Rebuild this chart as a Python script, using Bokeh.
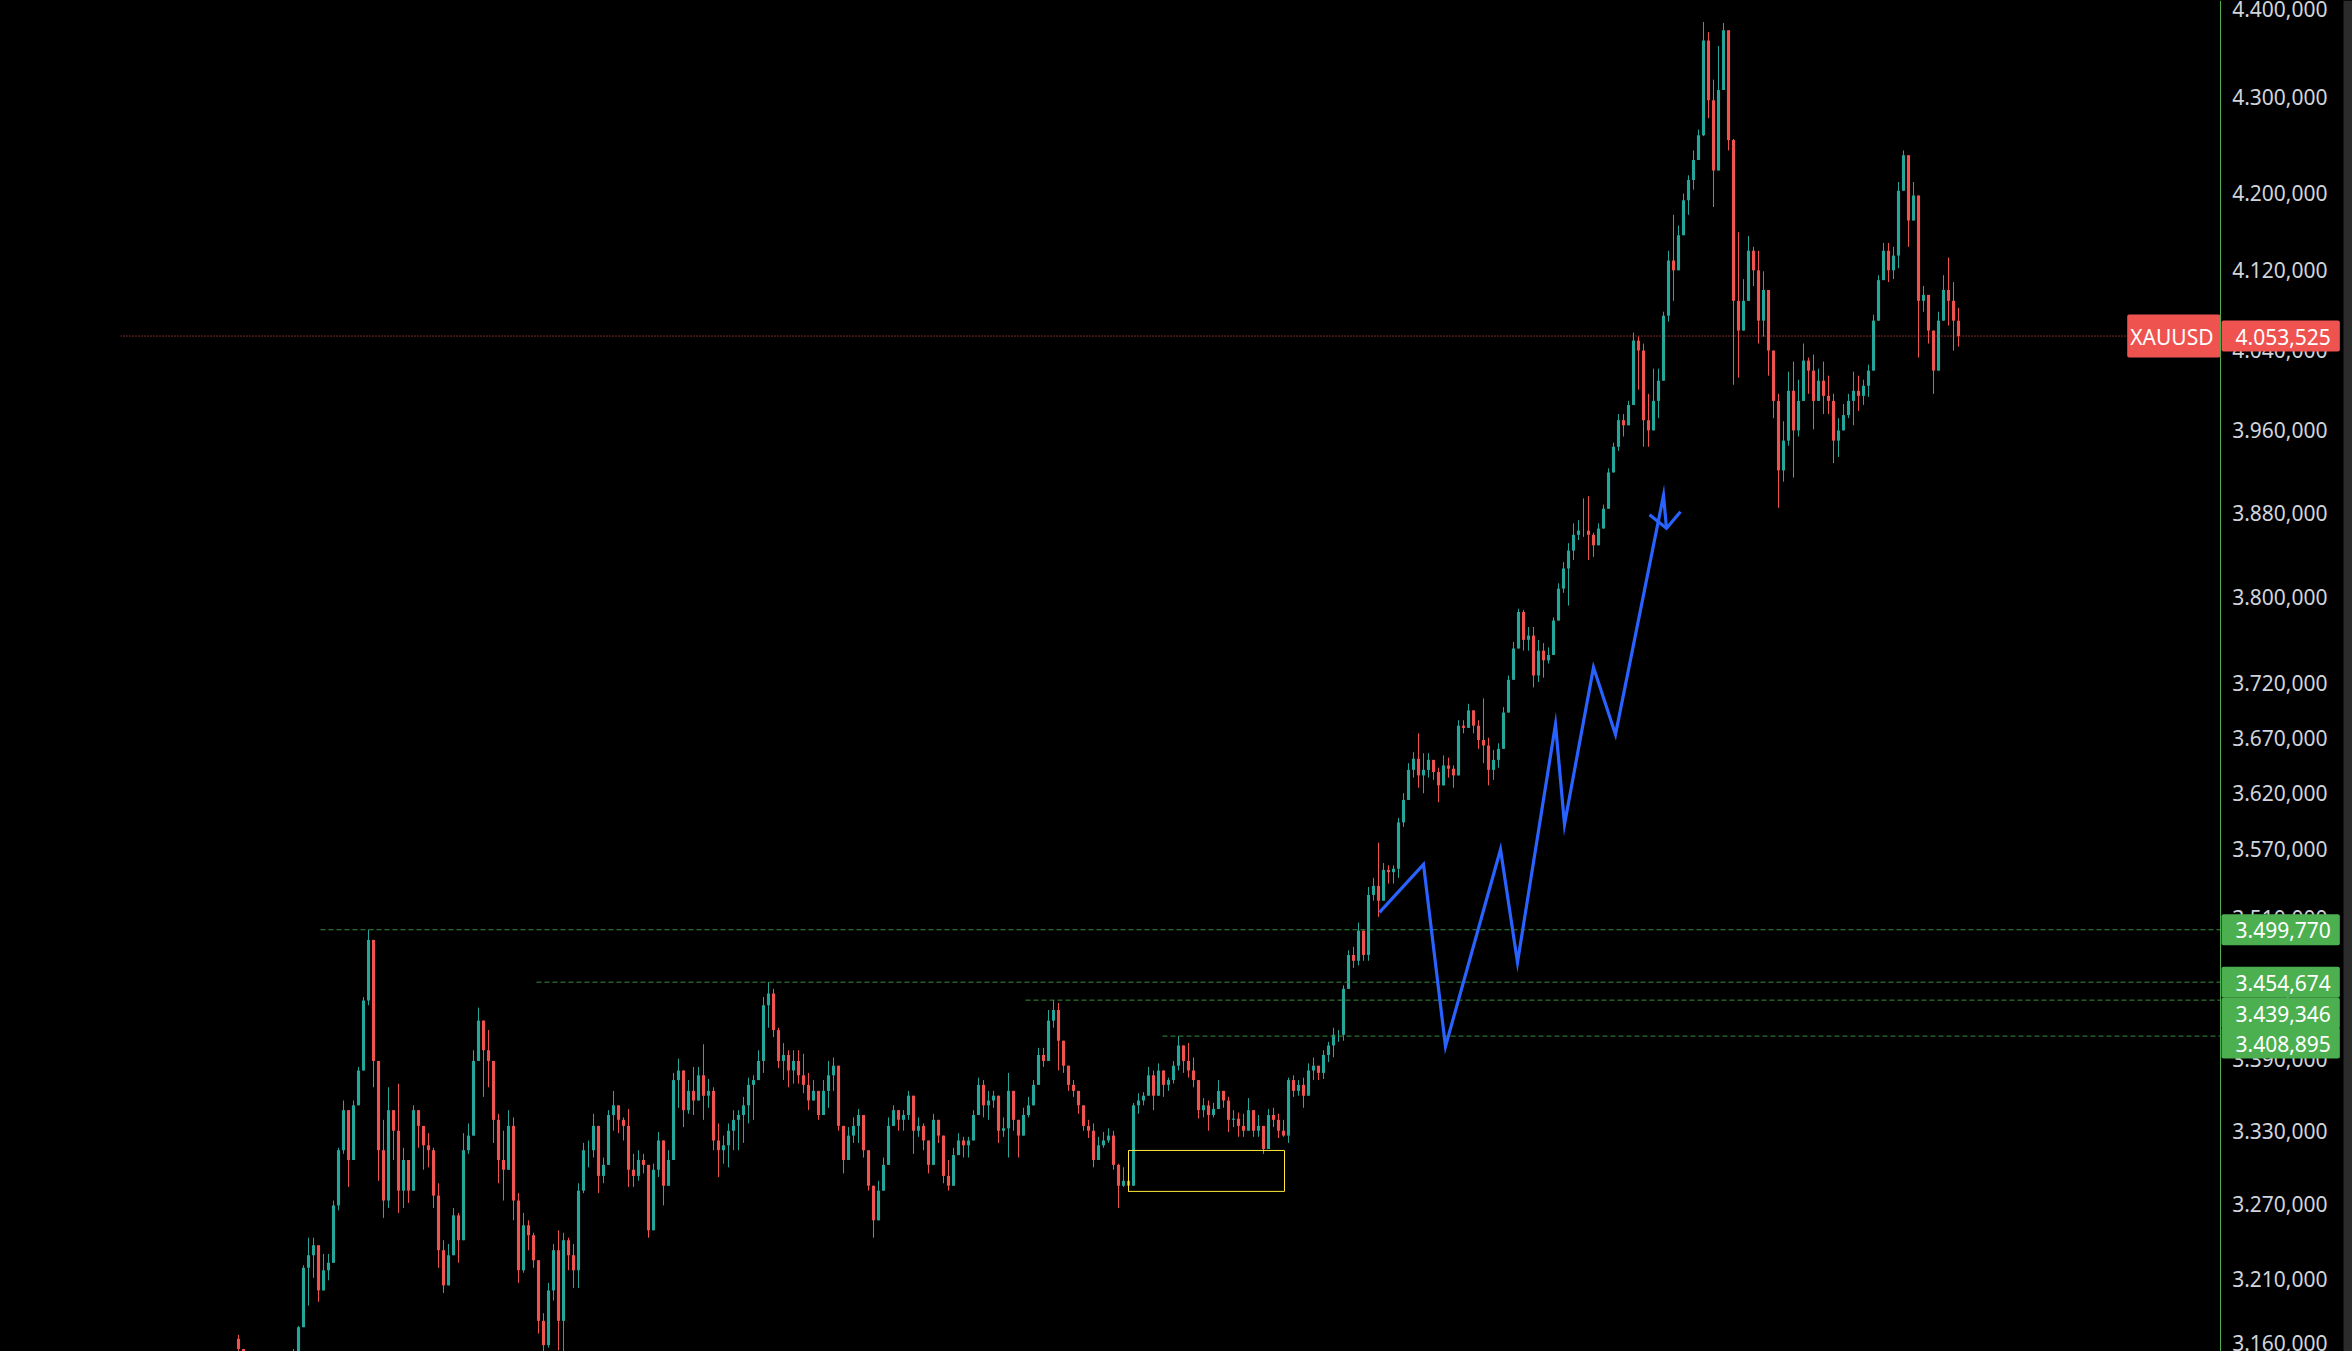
import numpy as np
from bokeh.plotting import figure
from bokeh.models import (Range1d, FixedTicker, CustomJSTickFormatter, Span, Label,
                          ColumnDataSource, BoxAnnotation)
from bokeh.embed import file_html
from bokeh.resources import INLINE

# ---------------- data ----------------
symbol = "XAUUSD"
last_price = 4053.525
first_open = 3163.0

high = [
    3166, 3150, 3145, 3140, 3136, 3138, 3132, 3140, 3145, 3148,
    3150, 3155, 3173, 3221, 3243, 3243, 3235, 3230, 3230, 3273,
    3316, 3355, 3347, 3355, 3383, 3442, 3499.77, 3469, 3372, 3339,
    3366, 3347, 3369, 3316, 3300, 3351, 3344, 3330, 3328, 3316,
    3287, 3241, 3238, 3267, 3263, 3328, 3336, 3397, 3433, 3420,
    3414, 3372, 3344, 3330, 3347, 3341, 3279, 3263, 3257, 3247,
    3219, 3183, 3207, 3238, 3249, 3247, 3243, 3238, 3287, 3320,
    3322, 3344, 3314, 3308, 3347, 3363, 3349, 3341, 3348, 3311,
    3314, 3311, 3292, 3303, 3329, 3320, 3314, 3378, 3390, 3366,
    3372, 3383, 3383, 3402, 3373, 3366, 3336, 3326, 3336, 3347,
    3347, 3358, 3374, 3376, 3397, 3442, 3454.674, 3449, 3416, 3403,
    3397, 3397, 3397, 3394, 3378, 3372, 3361, 3372, 3388, 3391,
    3361, 3330, 3333, 3341, 3348, 3333, 3308, 3281, 3289, 3308,
    3341, 3351, 3347, 3347, 3363, 3353, 3341, 3336, 3314, 3344,
    3336, 3320, 3306, 3316, 3328, 3325, 3325, 3347, 3374, 3372,
    3363, 3363, 3358, 3341, 3378, 3344, 3339, 3349, 3358, 3372,
    3399, 3399, 3431, 3439.346, 3437, 3391, 3378, 3372, 3361, 3347,
    3339, 3336, 3325, 3329, 3332, 3330, 3303, 3300, 3298, 3353,
    3361, 3362, 3383, 3380, 3386, 3378, 3374, 3388, 3408.895, 3401,
    3403, 3391, 3362, 3357, 3355, 3353, 3372, 3363, 3358, 3347,
    3345, 3344, 3357, 3339, 3343, 3325, 3348, 3349, 3344, 3339,
    3374, 3376, 3372, 3374, 3386, 3391, 3384, 3397, 3404, 3416,
    3414, 3452, 3482, 3485, 3506, 3497, 3537, 3545, 3576, 3558,
    3556, 3556, 3598, 3620, 3647, 3657, 3674, 3656, 3656, 3650,
    3643, 3654, 3652, 3645, 3686, 3686, 3701, 3695, 3686, 3706,
    3670, 3659, 3665, 3698, 3727, 3758, 3789, 3788, 3772, 3772,
    3760, 3757, 3753, 3781, 3813, 3833, 3851, 3870, 3873, 3894,
    3896, 3861, 3870, 3888, 3923, 3948, 3976, 3976, 3989, 4057,
    4053, 4046, 3996, 4021, 4021, 4078, 4140, 4177, 4166, 4199,
    4218, 4244, 4266, 4381, 4370, 4319, 4355, 4380, 4346, 4256,
    4159, 4111, 4155, 4144, 4140, 4119, 4085, 4018, 3996, 3969,
    4018, 4028, 4010, 4046, 4032, 4035, 4021, 4028, 4014, 3996,
    3972, 3986, 3996, 4018, 4014, 4010, 4025, 4075, 4115, 4148,
    4148, 4144, 4211, 4244, 4214, 4211, 4185, 4104, 4094, 4050,
    4078, 4115, 4133, 4108, 4082,
]

low = [
    3152, 3135, 3128, 3122, 3118, 3120, 3115, 3124, 3130, 3132,
    3135, 3140, 3150, 3173, 3189, 3211, 3192, 3201, 3209, 3225,
    3265, 3311, 3284, 3308, 3355, 3405, 3435, 3366, 3289, 3259,
    3267, 3306, 3263, 3267, 3271, 3292, 3316, 3298, 3300, 3267,
    3219, 3199, 3211, 3238, 3223, 3281, 3311, 3328, 3397, 3358,
    3366, 3320, 3287, 3273, 3306, 3257, 3207, 3215, 3233, 3219,
    3167, 3148, 3156, 3193, 3154, 3152, 3217, 3203, 3203, 3279,
    3300, 3308, 3279, 3287, 3322, 3330, 3328, 3322, 3284, 3284,
    3289, 3295, 3243, 3265, 3292, 3269, 3287, 3322, 3349, 3333,
    3344, 3343, 3361, 3339, 3349, 3314, 3292, 3303, 3300, 3314,
    3314, 3320, 3336, 3339, 3378, 3378, 3416, 3408, 3382, 3372,
    3366, 3369, 3369, 3361, 3347, 3358, 3339, 3347, 3349, 3363,
    3330, 3295, 3320, 3320, 3320, 3308, 3281, 3243, 3273, 3281,
    3308, 3336, 3330, 3330, 3339, 3311, 3325, 3314, 3295, 3303,
    3320, 3287, 3281, 3289, 3314, 3308, 3308, 3328, 3349, 3341,
    3339, 3349, 3320, 3325, 3308, 3330, 3308, 3330, 3341, 3361,
    3383, 3383, 3388, 3416, 3380, 3378, 3363, 3358, 3344, 3330,
    3324, 3300, 3308, 3316, 3320, 3298, 3267, 3284, 3280, 3295,
    3344, 3351, 3361, 3347, 3372, 3358, 3363, 3369, 3380, 3378,
    3374, 3366, 3340, 3341, 3330, 3341, 3349, 3349, 3329, 3333,
    3325, 3325, 3333, 3325, 3325, 3311, 3325, 3333, 3324, 3325,
    3320, 3358, 3359, 3349, 3366, 3372, 3372, 3373, 3387, 3391,
    3404, 3405, 3450, 3467, 3469, 3473, 3473, 3525, 3511, 3534,
    3540, 3540, 3545, 3590, 3623, 3634, 3625, 3620, 3634, 3632,
    3612, 3629, 3634, 3625, 3636, 3674, 3683, 3674, 3660, 3647,
    3627, 3632, 3643, 3661, 3704, 3736, 3766, 3750, 3750, 3716,
    3721, 3725, 3738, 3753, 3790, 3804, 3792, 3835, 3854, 3857,
    3835, 3838, 3851, 3868, 3885, 3927, 3940, 3954, 3972, 3985,
    4000, 3944, 3944, 3972, 3972, 4023, 4068, 4089, 4126, 4162,
    4177, 4203, 4237, 4259, 4278, 4185, 4229, 4343, 4244, 4005,
    4012, 4064, 4089, 4104, 4046, 4053, 4014, 3972, 3885, 3910,
    3945, 3914, 3954, 3996, 3996, 3961, 3993, 3976, 3976, 3928,
    3934, 3961, 3972, 3965, 3979, 3985, 3993, 4032, 4075, 4122,
    4108, 4111, 4122, 4205, 4144, 4173, 4032, 4078, 4046, 3996,
    4025, 4075, 4064, 4039, 4043,
]

close = [
    3155, 3140, 3132, 3126, 3130, 3124, 3128, 3136, 3140, 3137,
    3146, 3152, 3172, 3219, 3229, 3237, 3201, 3217, 3223, 3269,
    3314, 3347, 3306, 3351, 3380, 3439, 3491, 3388, 3314, 3273,
    3347, 3330, 3281, 3306, 3281, 3347, 3334, 3318, 3314, 3277,
    3233, 3205, 3229, 3261, 3241, 3314, 3326, 3388, 3422, 3397,
    3388, 3339, 3306, 3298, 3334, 3273, 3217, 3253, 3245, 3225,
    3177, 3158, 3201, 3233, 3177, 3241, 3229, 3217, 3281, 3314,
    3314, 3334, 3293, 3302, 3343, 3351, 3339, 3334, 3298, 3293,
    3306, 3302, 3249, 3298, 3322, 3285, 3306, 3372, 3380, 3347,
    3363, 3355, 3376, 3359, 3363, 3322, 3314, 3318, 3330, 3339,
    3343, 3351, 3368, 3372, 3388, 3435, 3445, 3414, 3388, 3393,
    3380, 3388, 3376, 3368, 3355, 3363, 3343, 3363, 3376, 3384,
    3334, 3306, 3326, 3334, 3343, 3314, 3285, 3257, 3281, 3302,
    3334, 3347, 3339, 3343, 3359, 3330, 3334, 3322, 3302, 3339,
    3326, 3293, 3285, 3310, 3322, 3318, 3322, 3343, 3368, 3351,
    3355, 3359, 3330, 3332, 3363, 3339, 3326, 3343, 3351, 3368,
    3393, 3388, 3422, 3431, 3405, 3384, 3368, 3363, 3351, 3334,
    3330, 3306, 3318, 3322, 3326, 3302, 3285, 3289, 3285, 3351,
    3355, 3359, 3376, 3359, 3380, 3368, 3372, 3384, 3401, 3388,
    3380, 3372, 3347, 3351, 3343, 3348, 3363, 3355, 3339, 3340,
    3334, 3330, 3347, 3330, 3334, 3315, 3343, 3339, 3330, 3326,
    3372, 3363, 3368, 3359, 3380, 3384, 3378, 3393, 3401, 3410,
    3410, 3449, 3478, 3473, 3499, 3478, 3530, 3538, 3525, 3552,
    3550, 3553, 3594, 3614, 3641, 3651, 3636, 3641, 3650, 3639,
    3627, 3645, 3642, 3636, 3681, 3679, 3695, 3681, 3668, 3663,
    3641, 3650, 3660, 3693, 3723, 3752, 3786, 3760, 3764, 3727,
    3750, 3741, 3746, 3778, 3808, 3827, 3844, 3859, 3863, 3863,
    3859, 3849, 3865, 3884, 3919, 3944, 3970, 3965, 3985, 4049,
    4039, 3970, 3960, 3989, 4009, 4074, 4130, 4120, 4156, 4192,
    4213, 4234, 4260, 4361, 4297, 4223, 4308, 4372, 4255, 4089,
    4059, 4089, 4140, 4120, 4069, 4100, 4039, 3989, 3921, 3950,
    3999, 3960, 3989, 4029, 4019, 3989, 4009, 3994, 3989, 3950,
    3960, 3975, 3989, 3999, 3994, 4004, 4019, 4069, 4110, 4140,
    4120, 4135, 4202, 4239, 4171, 4197, 4089, 4095, 4059, 4019,
    4069, 4100, 4089, 4069, 4053.525,
]

# horizontal rays (price, bar index where the ray starts)
key_levels = [3499.770, 3454.674, 3439.346, 3408.895]
key_level_start = [16.4, 59.6, 157.4, 184.8]
key_label_shift = [0, 0, -13, -7]   # label nudges (px) so the boxes do not overlap

# hand-drawn projection (bar index, price)
zigzag_x = [228.2, 237.0, 241.4, 252.4, 255.8, 263.4, 265.2, 271.0, 275.4, 285.0, 285.6]
zigzag_y = [3514.8, 3556.8, 3400.2, 3570.0, 3471.6, 3682.2, 3592.2, 3734.5, 3673.1, 3896.8, 3865.2]
arrow_x = [282.2, 285.6, 288.4]
arrow_y = [3878.2, 3865.2, 3881.1]

# yellow zone (bar index / price)
zone_left, zone_right = 178.0, 209.2
zone_top, zone_bottom = 3313.8, 3280.4

price_ticks = [4400, 4300, 4200, 4120, 4040, 3960, 3880, 3800, 3720, 3670, 3620,
               3570, 3510, 3450, 3390, 3330, 3270, 3210, 3160]

# ---------------- layout / styling ----------------
UP = "#26a69a"
DOWN = "#ef5350"
GREEN_LBL = "#4caf50"
FONT = "Noto Sans"
FS = "21px"

W, H = 2352, 1351
LEFT_PANEL = 120
x_lo, x_hi = -23.6, 422.8        # visible bar-index window of the frame
scale_x = 396.4                  # bar index where the price scale begins
label_anchor_x = 420.8           # where the (right-aligned) price labels end
scroll_x = 421.0                 # start of the grey strip at the far right
y_lo, y_hi = 3153.0, 4404.4


def fmt_price(v):
    s = f"{v:.3f}"
    ip, dp = s.split(".")
    groups = []
    while len(ip) > 3:
        groups.insert(0, ip[-3:])
        ip = ip[:-3]
    groups.insert(0, ip)
    return ".".join(groups) + "," + dp


def make_label(**kw):
    pad = kw.pop("pad")
    lab = Label(**kw)
    try:
        lab.padding = dict(left=pad[0], right=pad[1], top=pad[2], bottom=pad[3])
    except Exception:
        lab.padding = (pad[0], pad[1], pad[2], pad[3])
    return lab


p = figure(width=W, height=H, y_axis_type="log",
           x_range=Range1d(x_lo, x_hi), y_range=Range1d(y_lo, y_hi),
           output_backend="svg", toolbar_location=None,
           y_axis_location="left", x_axis_location=None,
           background_fill_color="black", border_fill_color="black",
           outline_line_color=None,
           min_border_left=LEFT_PANEL, min_border_top=0, min_border_bottom=0,
           min_border_right=0)
p.xgrid.visible = False
p.ygrid.visible = False

try:
    from bokeh.models import GlobalInlineStyleSheet
    p.stylesheets = [GlobalInlineStyleSheet(
        css="html, body { margin: 0 !important; padding: 0 !important; "
            "background-color: #000000 !important; overflow: hidden; }")]
except Exception:
    pass

ax = p.yaxis[0]
ax.fixed_location = label_anchor_x
ax.ticker = FixedTicker(ticks=price_ticks, minor_ticks=[])
ax.formatter = CustomJSTickFormatter(code="""
const s = tick.toFixed(3).split('.');
let ip = s[0]; let out = '';
while (ip.length > 3) { out = '.' + ip.slice(-3) + out; ip = ip.slice(0, -3); }
return ip + out + ',' + s[1];
""")
ax.axis_line_color = None
ax.major_tick_line_color = None
ax.minor_tick_line_color = None
ax.major_tick_out = 0
ax.major_tick_in = 0
ax.major_label_standoff = 15
ax.major_label_text_color = "#d1d4dc"
ax.major_label_text_font = FONT
ax.major_label_text_font_size = FS

# grey strip at far right
p.add_layout(BoxAnnotation(left=scroll_x, right=x_hi, fill_color="#2b2b2b",
                           fill_alpha=1.0, line_color=None, level="underlay"))

# ---------------- candles ----------------
close_a = np.array(close, dtype=float)
open_a = np.concatenate([[first_open], close_a[:-1]])
high_a = np.maximum(np.array(high, dtype=float), np.maximum(open_a, close_a))
low_a = np.minimum(np.array(low, dtype=float), np.minimum(open_a, close_a))
xs = np.arange(len(close_a))
colors = [UP if c >= o else DOWN for o, c in zip(open_a, close_a)]

src = ColumnDataSource(dict(x=xs, o=open_a, c=close_a, h=high_a, l=low_a,
                            top=np.maximum(open_a, close_a),
                            bot=np.minimum(open_a, close_a), col=colors))
p.segment(x0="x", y0="h", x1="x", y1="l", line_color="col", line_width=1, source=src)
p.vbar(x="x", width=0.62, top="top", bottom="bot", fill_color="col",
       line_color=None, source=src)

# ---------------- drawings ----------------
p.segment(x0=key_level_start, y0=key_levels, x1=[scale_x] * len(key_levels), y1=key_levels,
          line_color="#388e3c", line_dash="5 3", line_width=1)

p.segment(x0=[x_lo], y0=[last_price], x1=[scale_x], y1=[last_price],
          line_color=DOWN, line_dash="1 2", line_width=1)

p.quad(left=[zone_left], right=[zone_right], top=[zone_top], bottom=[zone_bottom],
       fill_alpha=0, line_color="#ffeb3b", line_width=1)

p.line(zigzag_x, zigzag_y, line_color="#2962ff", line_width=3.2, line_join="miter")
p.line(arrow_x, arrow_y, line_color="#2962ff", line_width=3.2, line_join="miter")

# ---------------- price-scale labels ----------------
for lvl, shift in zip(key_levels, key_label_shift):
    p.add_layout(make_label(x=scale_x, y=lvl, x_offset=1, y_offset=shift, text=fmt_price(lvl),
                            text_color="white", text_font=FONT, text_font_size=FS,
                            text_align="left", text_baseline="middle",
                            background_fill_color=GREEN_LBL, pad=(14, 9, 8, 7),
                            border_radius=2))

p.add_layout(make_label(x=scale_x, y=last_price, x_offset=1, text=fmt_price(last_price),
                        text_color="white", text_font=FONT, text_font_size=FS,
                        text_align="left", text_baseline="middle",
                        background_fill_color=DOWN, pad=(14, 9, 8, 7), border_radius=2))
p.add_layout(make_label(x=scale_x, y=last_price, x_offset=0, text=symbol,
                        text_color="white", text_font=FONT, text_font_size=FS,
                        text_align="right", text_baseline="middle",
                        background_fill_color=DOWN, pad=(3, 7, 8, 7), border_radius=2))

# price-scale border line (drawn last so it crosses the red label like the original)
p.add_layout(Span(location=scale_x, dimension="height", line_color=GREEN_LBL, line_width=1))

open("out.html", "w").write(file_html(p, INLINE))
